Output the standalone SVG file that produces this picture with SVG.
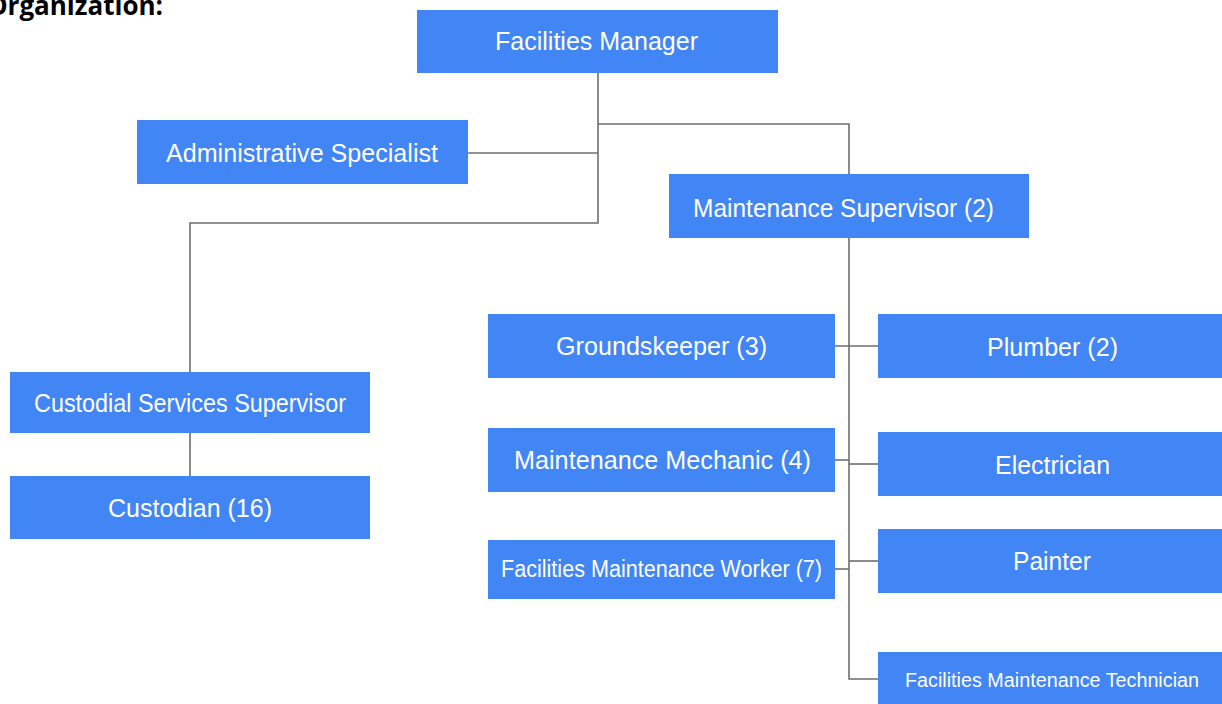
<svg xmlns="http://www.w3.org/2000/svg" width="1222" height="704" viewBox="0 0 1222 704">
<style>
.box{fill:#4285F4}
.t{fill:#fff;font-family:"Liberation Sans",Arial,sans-serif;font-size:24px;text-anchor:middle}
.s{font-size:21px}
.xs{font-size:18px}
.c{fill:none;stroke:#6e6e6e;stroke-width:1.6}
.title{font-family:"Open Sans","DejaVu Sans",sans-serif;font-weight:bold;font-size:26px;text-anchor:end;fill:#000}
</style>
<rect width="1222" height="704" fill="#fff"/>
<text class="title" x="163" y="15">Organization:</text>
<g id="connectors" class="c">
<path d="M598,73 V223 H190 V372"/>
<path d="M598,124 H849 V174"/>
<path d="M468,153 H598"/>
<path d="M190,433 V476"/>
<path d="M849,238 V679 H878"/>
<path d="M835,346 H878"/>
<path d="M835,460 H849"/>
<path d="M849,464 H878"/>
<path d="M835,569 H849"/>
<path d="M849,561 H878"/>
</g>
<g id="facilities-manager"><rect class="box" x="417" y="10" width="361" height="63"/><text class="t" transform="translate(596.5,50) scale(1,1.1)" textLength="203" lengthAdjust="spacingAndGlyphs">Facilities Manager</text></g>
<g id="admin-specialist"><rect class="box" x="137" y="120" width="331" height="64"/><text class="t" transform="translate(302,162) scale(1,1.1)" textLength="272" lengthAdjust="spacingAndGlyphs">Administrative Specialist</text></g>
<g id="maintenance-supervisor"><rect class="box" x="669" y="174" width="360" height="64"/><text class="t" transform="translate(843.5,217) scale(1,1.1)" textLength="301" lengthAdjust="spacingAndGlyphs">Maintenance Supervisor (2)</text></g>
<g id="custodial-supervisor"><rect class="box" x="10" y="372" width="360" height="61"/><text class="t" transform="translate(190,412) scale(1,1.1)" textLength="312" lengthAdjust="spacingAndGlyphs">Custodial Services Supervisor</text></g>
<g id="custodian"><rect class="box" x="10" y="476" width="360" height="63"/><text class="t" transform="translate(190,517) scale(1,1.1)" textLength="164" lengthAdjust="spacingAndGlyphs">Custodian (16)</text></g>
<g id="groundskeeper"><rect class="box" x="488" y="314" width="347" height="64"/><text class="t" transform="translate(661.5,355) scale(1,1.1)" textLength="211" lengthAdjust="spacingAndGlyphs">Groundskeeper (3)</text></g>
<g id="plumber"><rect class="box" x="878" y="314" width="344" height="64"/><text class="t" transform="translate(1052.5,356) scale(1,1.1)" textLength="131" lengthAdjust="spacingAndGlyphs">Plumber (2)</text></g>
<g id="maintenance-mechanic"><rect class="box" x="488" y="428" width="347" height="64"/><text class="t" transform="translate(662.5,469) scale(1,1.1)" textLength="297" lengthAdjust="spacingAndGlyphs">Maintenance Mechanic (4)</text></g>
<g id="electrician"><rect class="box" x="878" y="432" width="344" height="64"/><text class="t" transform="translate(1052.5,474) scale(1,1.1)" textLength="115" lengthAdjust="spacingAndGlyphs">Electrician</text></g>
<g id="facilities-maintenance-worker"><rect class="box" x="488" y="540" width="347" height="59"/><text class="t s" transform="translate(661.5,577) scale(1,1.1)" textLength="321" lengthAdjust="spacingAndGlyphs">Facilities Maintenance Worker (7)</text></g>
<g id="painter"><rect class="box" x="878" y="529" width="344" height="64"/><text class="t" transform="translate(1052,570) scale(1,1.1)" textLength="78" lengthAdjust="spacingAndGlyphs">Painter</text></g>
<g id="facilities-maintenance-technician"><rect class="box" x="878" y="652" width="344" height="52"/><text class="t xs" transform="translate(1052,687) scale(1,1.1)" textLength="294" lengthAdjust="spacingAndGlyphs">Facilities Maintenance Technician</text></g>
</svg>
